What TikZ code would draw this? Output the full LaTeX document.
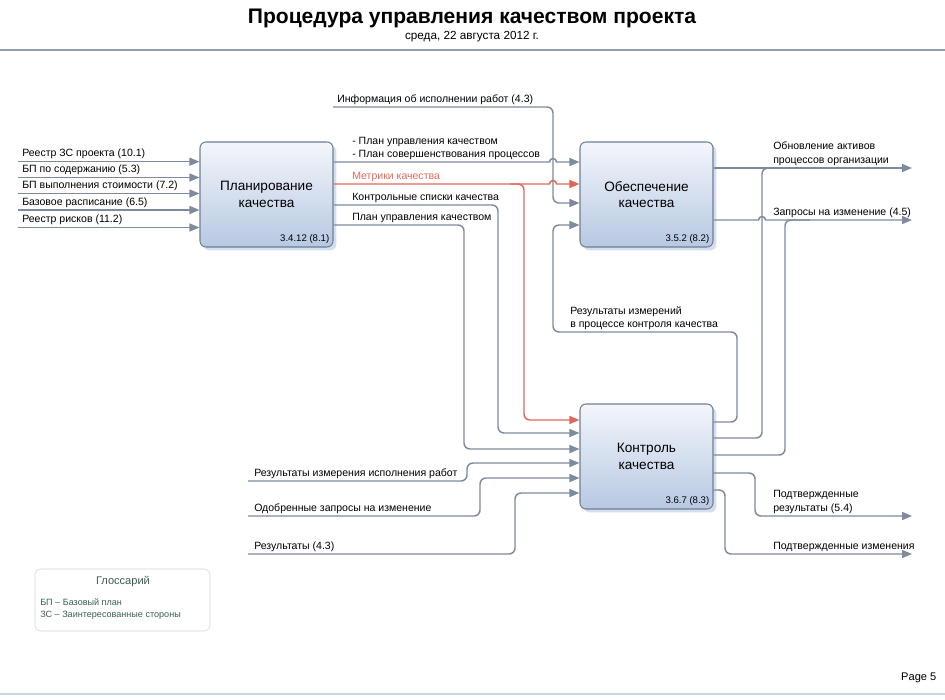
\documentclass[tikz,border=0pt]{standalone}
\usepackage{fontspec}
\setmainfont{Liberation Sans}
\usetikzlibrary{positioning, arrows.meta, shadows, calc}

\definecolor{flowline}{HTML}{7D8B9C}
\definecolor{metricred}{HTML}{E0675A}
\definecolor{boxedge}{HTML}{6E7F96}
\definecolor{boxtop}{HTML}{F3F6FB}
\definecolor{boxbottom}{HTML}{B7C8E2}
\definecolor{headrule}{HTML}{8E9FAD}
\definecolor{footrule}{HTML}{C9D8E8}
\definecolor{glosstext}{HTML}{3B5F4C}

\tikzset{%
  process/.style={draw=boxedge, thick, rounded corners=4.5pt,
    top color=boxtop, bottom color=boxbottom,
    minimum width=99.75pt, minimum height=78.75pt, align=center,
    font=\fontsize{10.2}{12.5}\selectfont,
    drop shadow={shadow xshift=2.5pt, shadow yshift=-2.5pt, fill=boxbottom, opacity=.6}},
  procid/.style={anchor=south east, inner sep=3pt, font=\fontsize{7.2}{8}\selectfont},
  flow/.style={draw=flowline, line width=1.1pt, rounded corners=4.5pt},
  flowin/.style={flow, -{Triangle[length=7.5pt, width=6pt]}},
  hopflow/.style={flowin, sharp corners},
  metric/.style={flowin, draw=metricred, -{Triangle[length=7.5pt, width=6pt, fill=metricred]}},
  lbl/.style={anchor=south west, inner sep=0pt, align=left,
    font=\fontsize{7.9}{10}\selectfont}
}

\begin{document}
\begin{tikzpicture}[x=0.75pt, y=-0.75pt]
  \useasboundingbox (0,0) rectangle (945,699);

  % header
  \node[font=\fontsize{15.8}{18}\selectfont\bfseries] (title) at (472,18)
    {Процедура управления качеством проекта};
  \node[font=\fontsize{8.8}{10}\selectfont] (date) at (472,37)
    {среда, 22 августа 2012 г.};
  \draw[headrule, line width=2.2pt] (0,50) -- (945,50);
  \draw[footrule, line width=1.5pt] (0,694) -- (945,694);
  \node[anchor=east, font=\fontsize{8.3}{10}\selectfont] (page) at (941,678) {Page 5};

  % processes
  \node[process] (plan) at (266.5,194.5) {Планирование\\качества};
  \node[process] (assure) at (646.5,194.5) {Обеспечение\\качества};
  \node[process] (ctrl) at (646.5,456.5) {Контроль\\качества};
  \node[procid] at (plan.south east) {3.4.12 (8.1)};
  \node[procid] at (assure.south east) {3.5.2 (8.2)};
  \node[procid] at (ctrl.south east) {3.6.7 (8.3)};

  % inputs of planning
  \foreach \y/\txt [count=\i] in {161.7/{Реестр ЗС проекта (10.1)},
      177.5/{БП по содержанию (5.3)}, 193.5/{БП выполнения стоимости (7.2)},
      210/{Базовое расписание (6.5)}, 227.5/{Реестр рисков (11.2)}} {
    \coordinate (plin\i) at (18,\y);
    \draw[flowin] (plin\i) -- (plan.west |- plin\i);
    \node[lbl] (plinlbl\i) at ($(plin\i)+(4,-2.5)$) {\txt};
  }

  % planning -> assurance
  \draw[hopflow] (plan.east |- 0,162) -- (549.5,162) arc[start angle=180, end angle=360, radius=3.5]
    -- (assure.west |- 0,162);
  \node[lbl] (planlbl) at (352,160) {- План управления качеством\\- План совершенствования процессов};
  \draw[metric, sharp corners] (plan.east |- 0,184) -- (549.5,184)
    arc[start angle=180, end angle=360, radius=3.5] -- (assure.west |- 0,184);
  \node[lbl, text=metricred] (metriclbl) at (352,181.5) {Метрики качества};
  \coordinate (info) at (333,107);
  \draw[flowin] (info) -- (553,107) -- (553,203) -- (assure.west |- 0,203);
  \node[lbl] (infolbl) at (337,104.5) {Информация об исполнении работ (4.3)};

  % planning -> control
  \draw[metric] (510,184) -- (524,184) -- (524,420) -- (ctrl.west |- 0,420);
  \draw[flowin] (plan.east |- 0,205) -- (498,205) -- (498,433) -- (ctrl.west |- 0,433);
  \node[lbl] (checklbl) at (352,202.5) {Контрольные списки качества};
  \draw[flowin] (plan.east |- 0,225) -- (464,225) -- (464,449) -- (ctrl.west |- 0,449);
  \node[lbl] (qplanlbl) at (352,222.5) {План управления качеством};

  % external inputs of control
  \coordinate (cin1) at (248,481);
  \coordinate (cin2) at (248,516);
  \coordinate (cin3) at (248,554);
  \draw[flowin] (cin1) -- (467,481) -- (467,463) -- (ctrl.west |- 0,463);
  \node[lbl] (cinlbl1) at ($(cin1)+(6,-2.5)$) {Результаты измерения исполнения работ};
  \draw[flowin] (cin2) -- (480,516) -- (480,478) -- (ctrl.west |- 0,478);
  \node[lbl] (cinlbl2) at ($(cin2)+(6,-2.5)$) {Одобренные запросы на изменение};
  \draw[flowin] (cin3) -- (515,554) -- (515,493) -- (ctrl.west |- 0,493);
  \node[lbl] (cinlbl3) at ($(cin3)+(6,-2.5)$) {Результаты (4.3)};

  % control -> assurance (feedback)
  \draw[flowin] (ctrl.east |- 0,422) -- (737,422) -- (737,332) -- (553,332) -- (553,225)
    -- (assure.west |- 0,225);
  \node[lbl] (measlbl) at (570,330) {Результаты измерений\\в процессе контроля качества};

  % outputs
  \coordinate (out1) at (912,168);
  \coordinate (out2) at (912,220);
  \coordinate (out3) at (912,516);
  \coordinate (out4) at (912,554);
  \draw[flowin] (assure.east |- out1) -- (out1);
  \node[lbl] (outlbl1) at (773,165.5) {Обновление активов\\процессов организации};
  \draw[hopflow] (assure.east |- out2) -- (758.5,220) arc[start angle=180, end angle=360, radius=3.5]
    -- (out2);
  \node[lbl] (outlbl2) at (773,217.5) {Запросы на изменение (4.5)};
  \draw[flow] (ctrl.east |- 0,438) -- (762,438) -- (762,168) -- (790,168);
  \draw[flow] (ctrl.east |- 0,455) -- (785,455) -- (785,220) -- (810,220);
  \draw[flowin] (ctrl.east |- 0,473) -- (755,473) -- (755,516) -- (out3);
  \node[lbl] (outlbl3) at (773,513.5) {Подтвержденные\\результаты (5.4)};
  \draw[flowin] (ctrl.east |- 0,490) -- (725,490) -- (725,554) -- (out4);
  \node[lbl] (outlbl4) at (773,551.5) {Подтвержденные изменения};

  % glossary
  \node[draw=gray!35, rounded corners=4.5pt, minimum width=131.25pt, minimum height=46.5pt]
    (gloss) at (122.5,600) {};
  \node[text=glosstext, font=\fontsize{8.3}{10}\selectfont] (glosstitle) at (123,582) {Глоссарий};
  \node[lbl, text=glosstext, font=\fontsize{6.8}{9}\selectfont] (glossitems) at (40,620)
    {БП – Базовый план\\ЗС – Заинтересованные стороны};
\end{tikzpicture}
\end{document}
